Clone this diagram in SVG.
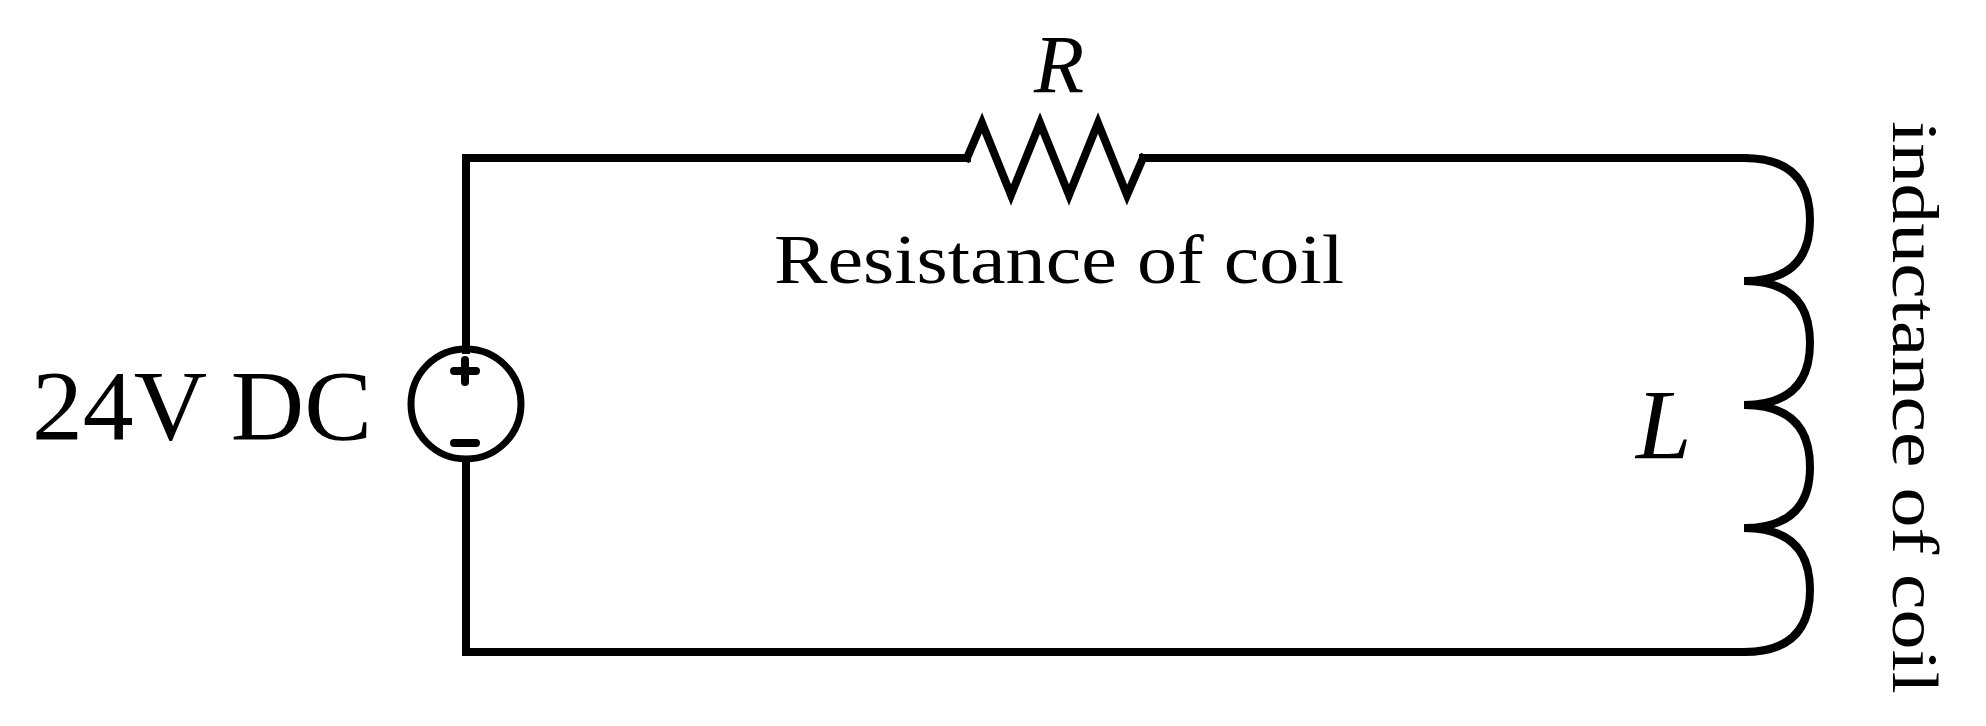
<svg xmlns="http://www.w3.org/2000/svg" width="1986" height="726" viewBox="0 0 1986 726">
<style>
.w{fill:none;stroke:#000;stroke-width:8;stroke-linecap:square;stroke-linejoin:miter}
.t{font-family:"Liberation Serif",serif;fill:#000}
</style>
<rect width="1986" height="726" fill="#fff"/>
<g id="connectors">
<path class="w" d="M466,350 V158 H967"/>
<path class="w" d="M1143,158 H1744"/>
<path class="w" d="M466,460 V652 H1744"/>
</g>
<g id="source">
<circle cx="466" cy="404" r="55" fill="none" stroke="#000" stroke-width="7"/>
<path d="M454,371 H476 M465,360 V382 M454,443 H476" stroke="#000" stroke-width="8" stroke-linecap="round"/>
<text class="t" x="32" y="439" font-size="100" textLength="340" lengthAdjust="spacingAndGlyphs">24V DC</text>
</g>
<g id="resistor">
<path class="w" d="M967,158 L982,123 L1011,195 L1040,123 L1069,195 L1098,123 L1127,195 L1143,158"/>
<text class="t" x="1059" y="92" font-size="82" font-style="italic" text-anchor="middle">R</text>
<text class="t" x="774" y="283" font-size="70" textLength="570" lengthAdjust="spacingAndGlyphs">Resistance of coil</text>
</g>
<g id="inductor">
<path class="w" d="M1744,158 Q1810,158 1810,220 Q1810,281 1744,281 Q1810,281 1810,343 Q1810,405 1744,405 Q1810,405 1810,467 Q1810,528 1744,528 Q1810,528 1810,590 Q1810,652 1744,652"/>
<text class="t" x="1636" y="458" font-size="100" font-style="italic">L</text>
<text class="t" transform="translate(1893,121) rotate(90)" font-size="66" textLength="573" lengthAdjust="spacingAndGlyphs">inductance of coil</text>
</g>
</svg>
